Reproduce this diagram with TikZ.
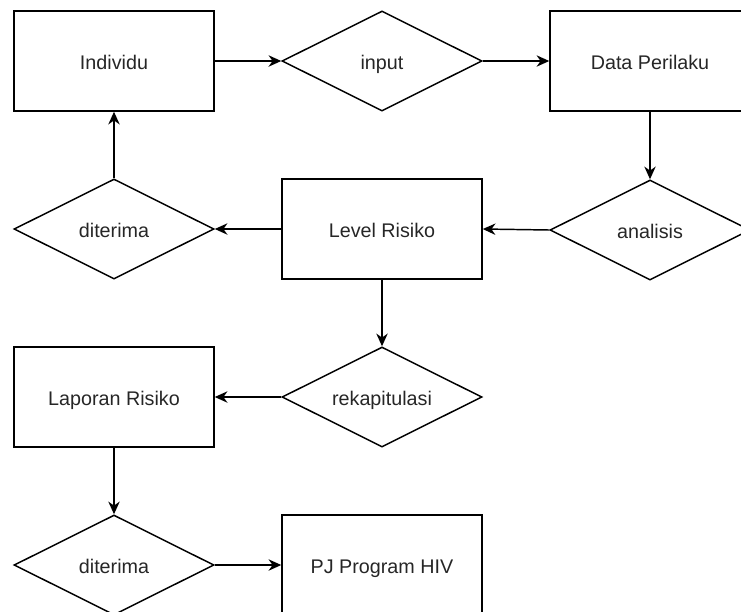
\documentclass[tikz,border=0pt]{standalone}
\usepackage{fontspec}
\setmainfont{Liberation Sans}
\usetikzlibrary{shapes.geometric,arrows.meta}
\begin{document}
\begin{tikzpicture}[x=0.75pt,y=-0.75pt,
  txt/.style={font=\fontsize{14.8}{17}\selectfont, text=black!85, text height=12.8pt, text depth=0pt, inner sep=0pt},
  box/.style={txt, draw, line width=1.1pt, rectangle, minimum width=150pt, minimum height=75pt},
  dia/.style={draw, line width=1.1pt, diamond, minimum width=150pt, minimum height=75pt, inner sep=0pt, label={[txt]center:#1}},
  arr/.style={line width=1.1pt, -{Stealth[length=9.5pt,width=8.5pt,inset=3pt]}}]
\useasboundingbox (0,0) rectangle (741,611);
\clip (0,0) rectangle (741,611);
\node[box] (ind) at (114,61) {Individu};
\node[dia=input] (inp) at (382,61) {};
\node[box] (data) at (650,61) {Data Perilaku};
\node[dia=analisis] (ana) at (650,230) {};
\node[box] (lvl) at (382,229) {Level Risiko};
\node[dia=diterima] (dt1) at (114,229) {};
\node[dia=rekapitulasi] (rek) at (382,397) {};
\node[box] (lap) at (114,397) {Laporan Risiko};
\node[dia=diterima] (dt2) at (114,565) {};
\node[box] (pj) at (382,565) {PJ Program HIV};
\draw[arr] (ind.east) -- (inp.west);
\draw[arr] (inp.east) -- (data.west);
\draw[arr] (data.south) -- (ana.north);
\draw[arr] (ana.west) -- (lvl.east);
\draw[arr] (lvl.west) -- (dt1.east);
\draw[arr] (dt1.north) -- (ind.south);
\draw[arr] (lvl.south) -- (rek.north);
\draw[arr] (rek.west) -- (lap.east);
\draw[arr] (lap.south) -- (dt2.north);
\draw[arr] (dt2.east) -- (pj.west);
\end{tikzpicture}
\end{document}
